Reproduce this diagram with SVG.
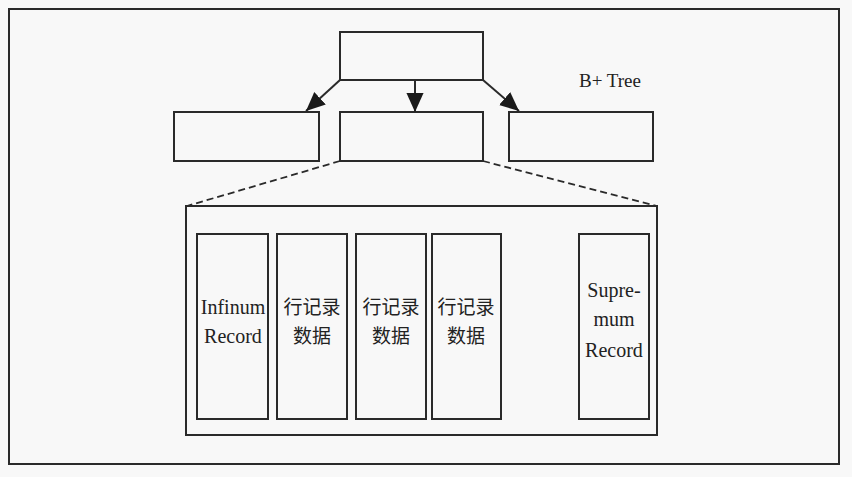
<svg xmlns="http://www.w3.org/2000/svg" width="852" height="477" viewBox="0 0 852 477">
<style>
.box{fill:none;stroke:#2a2a2a;stroke-width:2}
.t{font-family:"Liberation Serif","Noto Sans CJK SC",serif;font-size:20px;fill:#222;text-anchor:middle}
.c{font-family:"Noto Sans CJK SC",sans-serif;font-size:19px;fill:#222;text-anchor:middle}
.ln{stroke:#2a2a2a;stroke-width:2;fill:none}
.dash{stroke:#2a2a2a;stroke-width:1.8;fill:none;stroke-dasharray:7,4}
</style>
<defs>
<marker id="ah2" viewBox="0 0 10 10" refX="10" refY="5" markerWidth="19" markerHeight="19" markerUnits="userSpaceOnUse" orient="auto">
<path d="M0,0.5 L10,5 L0,9.5 z" fill="#1a1a1a"/>
</marker>
</defs>
<rect x="0" y="0" width="852" height="477" fill="#f8f8f8"/>
<rect id="frame" x="9" y="9" width="830" height="455" class="box"/>
<g id="root"><rect x="340" y="32" width="143" height="48" class="box"/></g>
<g id="leafLeft"><rect x="174" y="112" width="145" height="49" class="box"/></g>
<g id="leafMid"><rect x="340" y="112" width="143" height="49" class="box"/></g>
<g id="leafRight"><rect x="509" y="112" width="144" height="49" class="box"/></g>
<g id="label"><text x="579" y="87" class="t" style="text-anchor:start;font-size:19px">B+ Tree</text></g>
<g id="connectors">
<line x1="340" y1="80" x2="306" y2="111" class="ln" marker-end="url(#ah2)"/>
<line x1="415" y1="80" x2="415" y2="112" class="ln" marker-end="url(#ah2)"/>
<line x1="483" y1="80" x2="519" y2="111" class="ln" marker-end="url(#ah2)"/>
<line x1="340" y1="161" x2="187" y2="206" class="dash"/>
<line x1="483" y1="161" x2="657" y2="206" class="dash"/>
</g>
<g id="page"><rect x="186" y="206" width="471" height="229" class="box"/></g>
<g id="infimum"><rect x="197" y="234" width="71" height="185" class="box"/>
<text x="233" y="314" class="t">Infinum</text><text x="233" y="343" class="t">Record</text></g>
<g id="row1"><rect x="277" y="234" width="70" height="185" class="box"/>
<text x="312" y="314" class="c">行记录</text><text x="312" y="343" class="c">数据</text></g>
<g id="row2"><rect x="356" y="234" width="70" height="185" class="box"/>
<text x="391" y="314" class="c">行记录</text><text x="391" y="343" class="c">数据</text></g>
<g id="row3"><rect x="432" y="234" width="69" height="185" class="box"/>
<text x="466" y="314" class="c">行记录</text><text x="466" y="343" class="c">数据</text></g>
<g id="supremum"><rect x="579" y="234" width="70" height="185" class="box"/>
<text x="614" y="297" class="t">Supre-</text><text x="614" y="326" class="t">mum</text><text x="614" y="357" class="t">Record</text></g>
</svg>
